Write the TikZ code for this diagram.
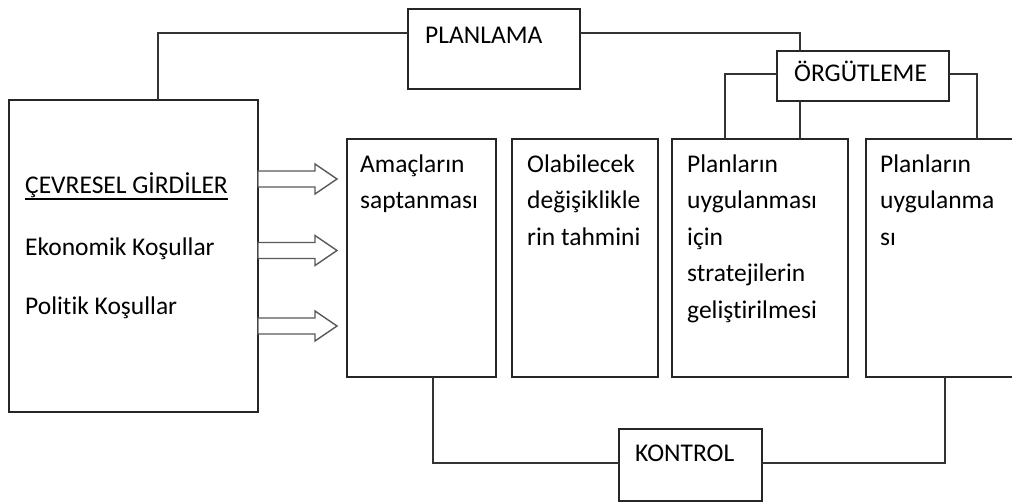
\documentclass[tikz,border=0pt]{standalone}
\usepackage{fontspec}
\setmainfont{Carlito}[Ligatures=NoCommon]
\begin{document}
\begin{tikzpicture}[x=1pt,y=-1pt,
  blk/.style={draw=black!85, line width=1.3pt, fill=white, inner sep=0pt, outer sep=0pt, anchor=north west},
  wire/.style={draw=black!80, line width=1.1pt},
  txtline/.style={inner sep=0pt, anchor=base west, font=\fontsize{25.5}{36.5}\selectfont},
  txtblock/.style={inner sep=0pt, anchor=north west, align=left, font=\fontsize{25.5}{36.5}\selectfont},
  blockarrow/.pic={
    \draw[draw=black!65, line width=1.4pt, fill=white, line join=miter]
      (0,-8) -- (57,-8) -- (57,-15) -- (79,0) -- (57,15) -- (57,8) -- (0,8) -- cycle;
  }
]
\useasboundingbox (0,0) rectangle (1012,502);
\clip (0,0) rectangle (1012,502);

% boxes
\node[blk, minimum width=249pt, minimum height=312pt] (L)  at (9,100)   {};
\node[blk, minimum width=172pt, minimum height=80pt]  (P)  at (408,9)   {};
\node[blk, minimum width=172pt, minimum height=50pt]  (O)  at (777,51)  {};
\node[blk, minimum width=149pt, minimum height=238pt] (B1) at (347,139) {};
\node[blk, minimum width=146pt, minimum height=238pt] (B2) at (512,139) {};
\node[blk, minimum width=176pt, minimum height=238pt] (B3) at (672,139) {};
\node[blk, minimum width=180pt, minimum height=238pt] (B4) at (866,139) {};
\node[blk, minimum width=143pt, minimum height=72pt]  (K)  at (619,429) {};

% connectors
\draw[wire] ([xshift=149pt]L.north west) |- ([yshift=16pt]P.west);
\draw[wire] ([yshift=16pt]P.east) -| ([xshift=23pt]O.north west);
\draw[wire] ([yshift=2pt]O.west) -| ([xshift=53pt]B3.north west);
\draw[wire] ([xshift=23pt]O.south west) -- ([xshift=23pt]O.south west |- B3.north);
\draw[wire] ([yshift=2pt]O.east) -| ([xshift=111pt]B4.north west);
\draw[wire] ([xshift=86pt]B1.south west) |- ([yshift=2pt]K.west);
\draw[wire] ([yshift=2pt]K.east) -| ([xshift=79pt]B4.south west);

% input arrows
\pic at (258,179)   {blockarrow};
\pic at (258,250.5) {blockarrow};
\pic at (258,326)   {blockarrow};

% titles
\node[txtline] (tp) at (425,44)  {PLANLAMA};
\node[txtline] (to) at (794,82)  {ÖRGÜTLEME};
\node[txtline] (tk) at (635,461) {KONTROL};

% environmental inputs
\node[txtline] (g1) at (25,194) {ÇEVRESEL GİRDİLER};
\draw[line width=1.2pt] ([yshift=-5pt]g1.base west) -- ([yshift=-5pt]g1.base east);
\node[txtline] (g2) at (25,256) {Ekonomik Koşullar};
\node[txtline] (g3) at (25,315) {Politik Koşullar};

% process steps
\node[txtblock] (s1) at (360,146.5) {\strut Amaçların\\saptanması};
\node[txtblock] (s2) at (527,146.5) {\strut Olabilecek\\değişiklikle\\rin tahmini};
\node[txtblock] (s3) at (687,146.5) {\strut Planların\\uygulanması\\için\\stratejilerin\\geliştirilmesi};
\node[txtblock] (s4) at (880,146.5) {\strut Planların\\uygulanma\\sı};
\end{tikzpicture}
\end{document}
